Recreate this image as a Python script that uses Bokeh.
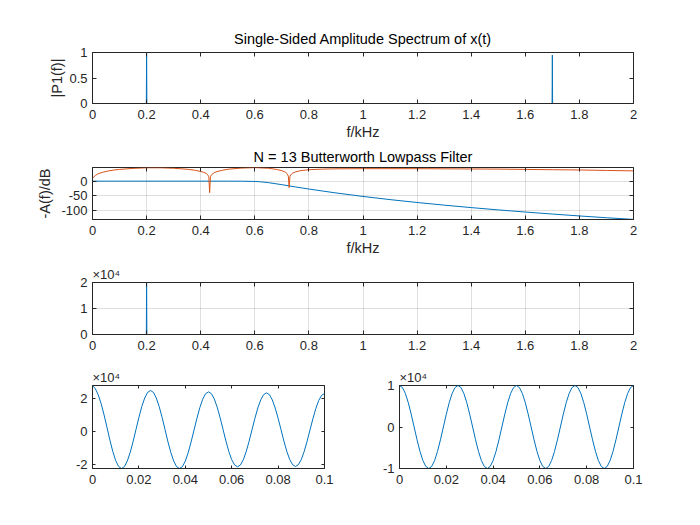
import numpy as np
from bokeh.plotting import figure
from bokeh.layouts import column, row
from bokeh.models import (Range1d, FixedTicker, NumeralTickFormatter, LinearAxis, Title,
                          CustomJSTickFormatter)
from bokeh.embed import file_html
from bokeh.resources import INLINE

# ---------------- data ----------------
# Panel 1: single-sided amplitude spectrum of x(t)
f1 = [0.0, 0.199, 0.2, 0.201, 1.699, 1.7, 1.701, 2.0]
p1_amp = [0.0, 0.0, 1.0, 0.0, 0.0, 0.95, 0.0, 0.0]

# Panel 2: Butterworth lowpass attenuation (blue) and second curve (orange)
f2_blue = [0.0, 0.4, 0.5, 0.55, 0.6, 0.62, 0.65, 0.7, 0.75, 0.8, 0.9, 1.0, 1.1, 1.2, 1.3, 1.4,
           1.5, 1.6, 1.7, 1.8, 1.9, 2.0]
att_blue = [0.0, 0.0, 0.0, -0.12, -1.0, -2.1, -5.0, -12.0, -19.6, -26.8, -40.1, -52.0, -62.8,
            -72.6, -81.6, -90.0, -97.8, -105.1, -111.9, -118.4, -124.5, -130.2]
f2_orange = [0.0, 0.01, 0.02, 0.04, 0.06, 0.08, 0.1, 0.15, 0.2, 0.25, 0.3, 0.35, 0.38, 0.4, 0.41,
             0.42, 0.425, 0.43, 0.433, 0.436, 0.44, 0.45, 0.46, 0.48, 0.5, 0.55, 0.6, 0.65, 0.68,
             0.7, 0.71, 0.715, 0.72, 0.724, 0.727, 0.73, 0.735, 0.74, 0.75, 0.77, 0.8, 0.85, 0.9,
             1.0, 1.1, 1.2, 1.3, 1.4, 1.5, 1.6, 1.7, 1.8, 1.9, 2.0]
val_orange = [10, 19, 25, 31, 35, 38, 40, 43.5, 45.5, 45.5, 44, 40.5, 37, 33, 30.5,
              26.5, 23, 15, -39, 15, 22, 29, 32.5, 37, 40.5, 44.5, 46, 44, 40,
              35.5, 32, 29.5, 25, 17, -22, 17, 24, 27.5, 31.5, 36, 39, 41, 42,
              42.5, 42.5, 42.5, 42, 41.5, 41, 40, 39, 38, 36.5, 35]

# Panel 3: spectrum of filtered signal (x 10^4)
f3 = [0.0, 0.199, 0.2, 0.201, 2.0]
p3_amp = [0.0, 0.0, 2.0, 0.0, 0.0]

# Panels 4/5: time signals (x 10^4), t in s
t = np.linspace(0.0, 0.1, 81)
y4 = [2.75, 2.55, 2.18, 1.65, 0.98, 0.24, -0.52, -1.20, -1.75, -2.10, -2.22,
      -2.11, -1.77, -1.26, -0.61, 0.12, 0.84, 1.49, 2.00, 2.34, 2.45,
      2.34, 2.00, 1.49, 0.84, 0.12, -0.61, -1.26, -1.77, -2.11, -2.22,
      -2.11, -1.78, -1.27, -0.63, 0.08, 0.78, 1.42, 1.93, 2.26, 2.37,
      2.26, 1.94, 1.45, 0.82, 0.13, -0.57, -1.20, -1.69, -2.01, -2.12,
      -2.01, -1.70, -1.21, -0.59, 0.10, 0.78, 1.40, 1.89, 2.20, 2.31,
      2.20, 1.89, 1.40, 0.79, 0.11, -0.58, -1.19, -1.68, -1.99, -2.10,
      -1.99, -1.68, -1.20, -0.59, 0.09, 0.76, 1.37, 1.85, 2.16, 2.27]
y5 = [1, 0.951, 0.809, 0.588, 0.309, 0, -0.309, -0.588, -0.809, -0.951,
      -1, -0.951, -0.809, -0.588, -0.309, 0, 0.309, 0.588, 0.809, 0.951,
      1, 0.951, 0.809, 0.588, 0.309, 0, -0.309, -0.588, -0.809, -0.951,
      -1, -0.951, -0.809, -0.588, -0.309, 0, 0.309, 0.588, 0.809, 0.951,
      1, 0.951, 0.809, 0.588, 0.309, 0, -0.309, -0.588, -0.809, -0.951,
      -1, -0.951, -0.809, -0.588, -0.309, 0, 0.309, 0.588, 0.809, 0.951,
      1, 0.951, 0.809, 0.588, 0.309, 0, -0.309, -0.588, -0.809, -0.951,
      -1, -0.951, -0.809, -0.588, -0.309, 0, 0.309, 0.588, 0.809, 0.951, 1]

freq_ticks = [0, 0.2, 0.4, 0.6, 0.8, 1.0, 1.2, 1.4, 1.6, 1.8, 2.0]
time_ticks = [0, 0.02, 0.04, 0.06, 0.08, 0.1]

# ---------------- styling ----------------
FONT = "Liberation Sans"
AX = "#262626"
BLUE = "#0072BD"
ORANGE = "#D95319"


def make_fig(fw, fh, bl, br, bt, bb, xr, yr, xticks, yticks, grid=False, tick_len=4):
    p = figure(frame_width=fw, frame_height=fh,
               min_border_left=bl, min_border_right=br,
               min_border_top=bt, min_border_bottom=bb,
               x_range=Range1d(*xr), y_range=Range1d(*yr),
               output_backend="svg", toolbar_location=None)
    p.background_fill_color = "white"
    p.border_fill_color = "white"
    p.outline_line_color = AX
    p.outline_line_alpha = 1.0
    p.outline_line_width = 1
    xt = FixedTicker(ticks=xticks)
    yt = FixedTicker(ticks=yticks)
    xa = p.xaxis[0]
    ya = p.yaxis[0]
    xa.ticker = xt
    ya.ticker = yt
    for ax in (xa, ya):
        ax.major_tick_in = tick_len
        ax.major_tick_out = 0
        ax.minor_tick_line_color = None
        ax.axis_line_color = AX
        ax.major_tick_line_color = AX
        ax.major_label_text_font = FONT
        ax.major_label_text_font_size = "13px"
        ax.major_label_text_color = AX
        ax.formatter = NumeralTickFormatter(format="0.[00]")
        ax.axis_label_text_font = FONT
        ax.axis_label_text_font_size = "14.5px"
        ax.axis_label_text_font_style = "normal"
        ax.axis_label_text_color = AX
    xa.major_label_standoff = 6
    ya.major_label_standoff = 5
    blank = CustomJSTickFormatter(code="return ''")
    for side, tk in (("above", xt), ("right", yt)):
        a = LinearAxis(ticker=tk, formatter=blank, major_tick_in=tick_len, major_tick_out=0,
                       minor_tick_line_color=None, axis_line_color=None,
                       major_tick_line_color=AX, major_label_standoff=0,
                       major_label_text_font_size="0px")
        p.add_layout(a, side)
    if grid:
        p.xgrid.ticker = xt
        p.ygrid.ticker = yt
        p.grid.grid_line_color = AX
        p.grid.grid_line_alpha = 0.15
    else:
        p.grid.visible = False
    return p, xa, ya


def set_title(p, text, standoff):
    p.title = Title(text=text, align="center", text_font=FONT, text_font_size="14.5px",
                    text_font_style="normal", text_color="black", standoff=standoff)


def set_exponent(p, standoff):
    p.title = Title(text="\u00d710\u2074", align="left", text_font=FONT, text_font_size="13px",
                    text_font_style="normal", text_color=AX, standoff=standoff, offset=0)


L0 = 92   # frame left on page
T0 = 52   # frame top of first panel

# Panel 1
p1, x1, yy1 = make_fig(541, 51, L0, 59, T0, 38, (0, 2), (0, 1), freq_ticks, [0, 0.5, 1])
p1.line(f1, p1_amp, line_color=BLUE, line_width=1)
x1.axis_label = "f/kHz"
yy1.axis_label = "|P1(f)|"
x1.axis_label_standoff = 2
yy1.axis_label_standoff = 1
set_title(p1, "Single-Sided Amplitude Spectrum of x(t)", 11)

# Panel 2
p2, x2, yy2 = make_fig(541, 52, L0, 59, 25, 44, (0, 2), (-130.5, 46.5), freq_ticks,
                       [-100, -50, 0], grid=True)
p2.line(f2_blue, att_blue, line_color=BLUE, line_width=1)
p2.line(f2_orange, val_orange, line_color=ORANGE, line_width=1)
x2.axis_label = "f/kHz"
yy2.axis_label = "-A(f)/dB"
x2.axis_label_standoff = 2
yy2.axis_label_standoff = 5
set_title(p2, "N = 13 Butterworth Lowpass Filter", 6)

# Panel 3
p3, x3, yy3 = make_fig(541, 52, L0, 59, 19, 32, (0, 2), (0, 2), freq_ticks, [0, 1, 2], grid=True)
p3.line(f3, p3_amp, line_color=BLUE, line_width=1)
set_exponent(p3, 2)

# Panel 4
p4, x4, yy4 = make_fig(232, 83, L0, 38, 19, 40, (0, 0.1), (-2.22, 2.75), time_ticks,
                       [-2, 0, 2], tick_len=3)
p4.line(t, y4, line_color=BLUE, line_width=1)
set_exponent(p4, 2)

# Panel 5
p5, x5, yy5 = make_fig(234, 83, 37, 59, 19, 40, (0, 0.1), (-1, 1), time_ticks, [-1, 0, 1],
                       tick_len=3)
p5.line(t, y5, line_color=BLUE, line_width=1)
set_exponent(p5, 2)

layout = column(p1, p2, p3, row(p4, p5, spacing=0), spacing=0)

open("out.html", "w").write(file_html(layout, INLINE))
